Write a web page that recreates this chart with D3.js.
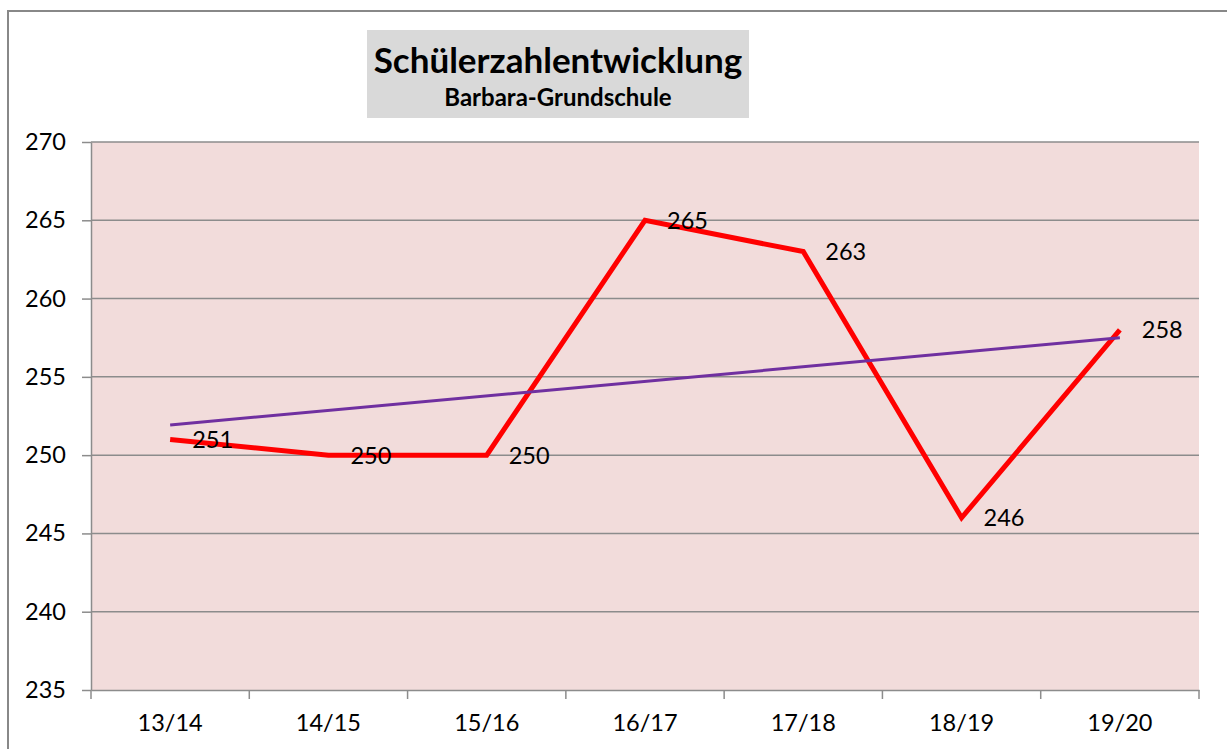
<!DOCTYPE html>
<html><head><meta charset="utf-8">
<script src="https://cdn.jsdelivr.net/npm/d3@7"></script>
<style>html,body{margin:0;padding:0;background:#fff;overflow:hidden}</style>
</head><body>
<svg id="c" width="1227" height="749"></svg>
<script>
const categories = ["13/14","14/15","15/16","16/17","17/18","18/19","19/20"];
const values = [251,250,250,265,263,246,258];
const yTicks = [235,240,245,250,255,260,265,270];
const titleText = "Schülerzahlentwicklung";
const subtitleText = "Barbara-Grundschule";

const svg = d3.select("#c");
const font = "Lato, 'Open Sans', sans-serif";
const m = {left:91, top:142, right:1199, bottom:690};

// outer chart border
svg.append("rect").attr("x",8).attr("y",11).attr("width",1240).attr("height",760)
  .attr("fill","#fff").attr("stroke","#888").attr("stroke-width",2);

const x = d3.scaleBand().domain(categories).range([m.left,m.right]);
const y = d3.scaleLinear().domain([235,270]).range([m.bottom,m.top]);

// plot background
svg.append("rect").attr("x",m.left).attr("y",m.top).attr("width",m.right-m.left).attr("height",m.bottom-m.top)
  .attr("fill","#f2dcdb");

// gridlines
svg.append("g").selectAll("line").data(yTicks.filter(d=>d>235)).join("line")
  .attr("x1",m.left).attr("x2",m.right).attr("y1",d=>y(d)).attr("y2",d=>y(d))
  .attr("stroke","#8c8c8c").attr("stroke-width",1.5);

// y axis
const ya = svg.append("g").attr("transform",`translate(${m.left},0)`)
  .call(d3.axisLeft(y).tickValues(yTicks).tickSize(9).tickPadding(16).tickSizeOuter(0));
ya.select(".domain").attr("stroke","#8c8c8c").attr("stroke-width",1.5);
ya.selectAll(".tick line").attr("stroke","#8c8c8c").attr("stroke-width",1.5);
ya.selectAll("text").attr("font-family",font).attr("font-size",23.5).attr("fill","#000");

// x axis
const xa = svg.append("g").attr("transform",`translate(0,${m.bottom})`)
  .call(d3.axisBottom(x).tickSize(0).tickPadding(24).tickSizeOuter(0));
xa.select(".domain").attr("stroke","#8c8c8c").attr("stroke-width",1.5);
xa.selectAll("text").attr("font-family",font).attr("font-size",23.5).attr("fill","#000");
// boundary ticks
const bounds = categories.map(c=>x(c)).concat([m.right]);
svg.append("g").selectAll("line").data(bounds).join("line")
  .attr("x1",d=>d).attr("x2",d=>d).attr("y1",m.bottom).attr("y2",m.bottom+9)
  .attr("stroke","#8c8c8c").attr("stroke-width",1.5);

const cx = d => x(d) + x.bandwidth()/2;

// linear trend line (least squares over the series)
const n = values.length;
const mx = (n-1)/2, my = d3.mean(values);
let sxy=0, sxx=0;
values.forEach((v,i)=>{sxy+=(i-mx)*(v-my); sxx+=(i-mx)*(i-mx);});
const slope = sxy/sxx, icpt = my - slope*mx;
const trend = categories.map((c,i)=>({c, v: icpt + slope*i}));

// series line
svg.append("path").datum(categories.map((c,i)=>({c,v:values[i]})))
  .attr("fill","none").attr("stroke","#ff0000").attr("stroke-width",5).attr("stroke-linejoin","miter")
  .attr("d", d3.line().x(d=>cx(d.c)).y(d=>y(d.v)));

svg.append("path").datum([trend[0],trend[n-1]])
  .attr("fill","none").attr("stroke","#7030a0").attr("stroke-width",3)
  .attr("d", d3.line().x(d=>cx(d.c)).y(d=>y(d.v)));

// data labels
svg.append("g").selectAll("text").data(values).join("text")
  .attr("x",(d,i)=>cx(categories[i])+22).attr("y",d=>y(d))
  .attr("dy","0.36em").attr("font-family",font).attr("font-size",23.5).attr("fill","#000")
  .text(d=>d);

// title box
svg.append("rect").attr("x",367).attr("y",30).attr("width",382).attr("height",88).attr("fill","#d9d9d9");
svg.append("text").attr("x",558).attr("y",73).attr("text-anchor","middle")
  .attr("font-family",font).attr("font-weight","bold").attr("font-size",35).attr("fill","#000").text(titleText);
svg.append("text").attr("x",558).attr("y",106).attr("text-anchor","middle")
  .attr("font-family",font).attr("font-weight","bold").attr("font-size",24).attr("fill","#000").text(subtitleText);
</script>
</body></html>
